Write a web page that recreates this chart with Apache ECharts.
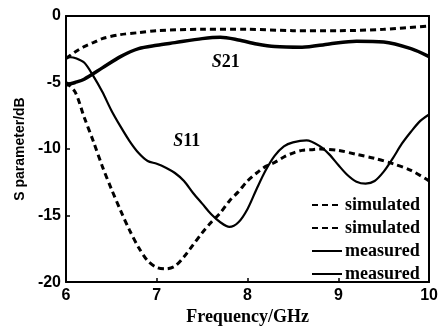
<!DOCTYPE html>
<html><head><meta charset="utf-8">
<script src="https://cdn.jsdelivr.net/npm/echarts@6/dist/echarts.min.js"></script>
<style>html,body{margin:0;padding:0;background:#fff}#c{width:441px;height:331px}</style>
</head><body><div id="c"></div>
<script>
// Frequency (GHz) sample points
const freqS21sim = [6.0, 6.1, 6.2, 6.3, 6.4, 6.6, 6.8, 7.0, 7.5, 8.0, 8.5, 9.0, 9.5, 10.0];
const s21sim     = [-3.2, -2.7, -2.3, -2.0, -1.7, -1.4, -1.25, -1.1, -1.0, -1.0, -1.1, -1.1, -1.0, -0.75];

const freqS21meas = [6.0, 6.1, 6.2, 6.4, 6.6, 6.8, 7.0, 7.2, 7.5, 7.7, 7.9, 8.1, 8.3, 8.6, 8.9, 9.2, 9.5, 9.8, 10.0];
const s21meas     = [-5.2, -5.0, -4.75, -3.9, -3.05, -2.45, -2.2, -2.0, -1.7, -1.6, -1.8, -2.1, -2.3, -2.35, -2.1, -1.9, -1.95, -2.45, -3.05];

const freqS11sim = [6.0, 6.1, 6.2, 6.3, 6.4, 6.5, 6.6, 6.7, 6.8, 6.9, 7.0, 7.1, 7.2, 7.3, 7.4, 7.5, 7.6, 7.7, 7.8, 7.9, 8.0, 8.1, 8.2, 8.3, 8.4, 8.5, 8.6, 8.7, 8.8, 9.0, 9.2, 9.4, 9.6, 9.8, 10.0];
const s11sim     = [-5.0, -5.7, -7.6, -9.4, -11.3, -13.0, -14.6, -16.1, -17.4, -18.4, -18.9, -19.0, -18.8, -18.1, -17.2, -16.3, -15.5, -14.8, -13.9, -13.2, -12.4, -11.8, -11.3, -11.0, -10.6, -10.3, -10.1, -10.05, -10.0, -10.1, -10.4, -10.7, -11.1, -11.6, -12.4];

const freqS11meas = [6.0, 6.05, 6.1, 6.2, 6.3, 6.4, 6.5, 6.6, 6.7, 6.8, 6.9, 7.0, 7.1, 7.2, 7.3, 7.4, 7.5, 7.6, 7.7, 7.8, 7.9, 8.0, 8.1, 8.2, 8.3, 8.4, 8.5, 8.65, 8.8, 8.9, 9.0, 9.1, 9.2, 9.3, 9.4, 9.5, 9.6, 9.7, 9.8, 9.9, 10.0];
const s11meas     = [-3.2, -3.1, -3.15, -3.5, -4.5, -5.7, -7.1, -8.3, -9.4, -10.3, -10.9, -11.1, -11.4, -11.8, -12.4, -13.3, -14.1, -14.9, -15.5, -15.85, -15.5, -14.5, -13.0, -11.6, -10.5, -9.8, -9.5, -9.35, -9.8, -10.4, -11.2, -11.95, -12.45, -12.6, -12.4, -11.7, -10.7, -9.6, -8.7, -7.9, -7.4];

const xTicks = [6, 7, 8, 9, 10];
const yTicks = [-20, -15, -10, -5, 0];
const legendLabels = ['simulated', 'simulated', 'measured', 'measured'];
const annotations = [
  { text: 'S21', x: 7.76, y: -3.45 },
  { text: 'S11', x: 7.33, y: -9.4 }
];

const zip = (xs, ys) => xs.map((x, i) => [x, ys[i]]);
const serif = '"Liberation Serif","Times New Roman",serif';
const sans = '"Liberation Sans",Arial,sans-serif';

const seriesNames = ['S21sim', 'S11sim', 'S21meas', 'S11meas'];
const chart = echarts.init(document.getElementById('c'), null, { renderer: 'canvas' });

const annotRich = {
  s: { fontFamily: serif, fontStyle: 'italic', fontWeight: 'bold', fontSize: 18, color: '#000' },
  n: { fontFamily: serif, fontWeight: 'bold', fontSize: 18, color: '#000' }
};

chart.setOption({
  animation: false,
  backgroundColor: '#fff',
  grid: { left: 66, right: 8, top: 16, bottom: 39 },
  legend: {
    data: seriesNames,
    formatter: name => legendLabels[seriesNames.indexOf(name)],
    orient: 'vertical',
    left: 311, top: 196,
    padding: 0,
    itemWidth: 30, itemHeight: 14, itemGap: 5,
    itemStyle: { color: 'rgba(0,0,0,0)', borderWidth: 0, opacity: 0 },
    textStyle: { fontFamily: serif, fontWeight: 'bold', fontSize: 18, color: '#000', lineHeight: 18, padding: [0,0,0,-2] }
  },
  xAxis: [{
    type: 'value', min: 6, max: 10, interval: 1,
    name: 'Frequency/GHz', nameLocation: 'middle', nameGap: 21,
    nameTextStyle: { fontFamily: serif, fontWeight: 'bold', fontSize: 18, color: '#000', verticalAlign: 'top' },
    axisLine: { show: true, onZero: false, lineStyle: { color: '#000', width: 2 } },
    axisTick: { show: true, inside: true, length: 4, lineStyle: { color: '#000', width: 1.5 } },
    axisLabel: { color: '#000', fontFamily: sans, fontWeight: 'bold', fontSize: 16, margin: 5,
      formatter: v => xTicks.includes(v) ? String(v) : '' },
    splitLine: { show: false }
  }, {
    type: 'value', min: 6, max: 10, position: 'top',
    axisLine: { show: true, onZero: false, lineStyle: { color: '#000', width: 2 } },
    axisTick: { show: false }, axisLabel: { show: false }, splitLine: { show: false }
  }],
  yAxis: [{
    type: 'value', min: -20, max: 0, interval: 5,
    name: 'S parameter/dB', nameLocation: 'middle', nameGap: 36, nameRotate: 90,
    nameTextStyle: { fontFamily: sans, fontWeight: 'bold', fontSize: 14, color: '#000' },
    axisLine: { show: true, onZero: false, lineStyle: { color: '#000', width: 2 } },
    axisTick: { show: true, inside: true, length: 4, lineStyle: { color: '#000', width: 1.5 } },
    axisLabel: { color: '#000', fontFamily: sans, fontWeight: 'bold', fontSize: 16, margin: 5,
      formatter: v => yTicks.includes(v) ? String(v) : '' },
    splitLine: { show: false }
  }, {
    type: 'value', min: -20, max: 0, position: 'right',
    axisLine: { show: true, onZero: false, lineStyle: { color: '#000', width: 2 } },
    axisTick: { show: false }, axisLabel: { show: false }, splitLine: { show: false }
  }],
  series: [
    { name: seriesNames[0], type: 'line', data: zip(freqS21sim, s21sim), smooth: 0.3, showSymbol: false, symbol: 'none',
      lineStyle: { color: '#000', width: 3, type: [6, 4] }, itemStyle: { color: '#000' } },
    { name: seriesNames[1], type: 'line', data: zip(freqS11sim, s11sim), smooth: 0.3, showSymbol: false, symbol: 'none',
      lineStyle: { color: '#000', width: 3, type: [6, 4] }, itemStyle: { color: '#000' } },
    { name: seriesNames[2], type: 'line', data: zip(freqS21meas, s21meas), smooth: 0.3, showSymbol: false, symbol: 'none',
      lineStyle: { color: '#000', width: 3.5 }, itemStyle: { color: '#000' },
      markPoint: { symbol: 'circle', symbolSize: 0, silent: true,
        data: [{ coord: [annotations[0].x, annotations[0].y] }],
        label: { show: true, position: 'inside', formatter: '{s|S}{n|21}', rich: annotRich } } },
    { name: seriesNames[3], type: 'line', data: zip(freqS11meas, s11meas), smooth: 0.3, showSymbol: false, symbol: 'none',
      lineStyle: { color: '#000', width: 2.2 }, itemStyle: { color: '#000' },
      markPoint: { symbol: 'circle', symbolSize: 0, silent: true,
        data: [{ coord: [annotations[1].x, annotations[1].y] }],
        label: { show: true, position: 'inside', formatter: '{s|S}{n|11}', rich: annotRich } } }
  ]
});
</script></body></html>
